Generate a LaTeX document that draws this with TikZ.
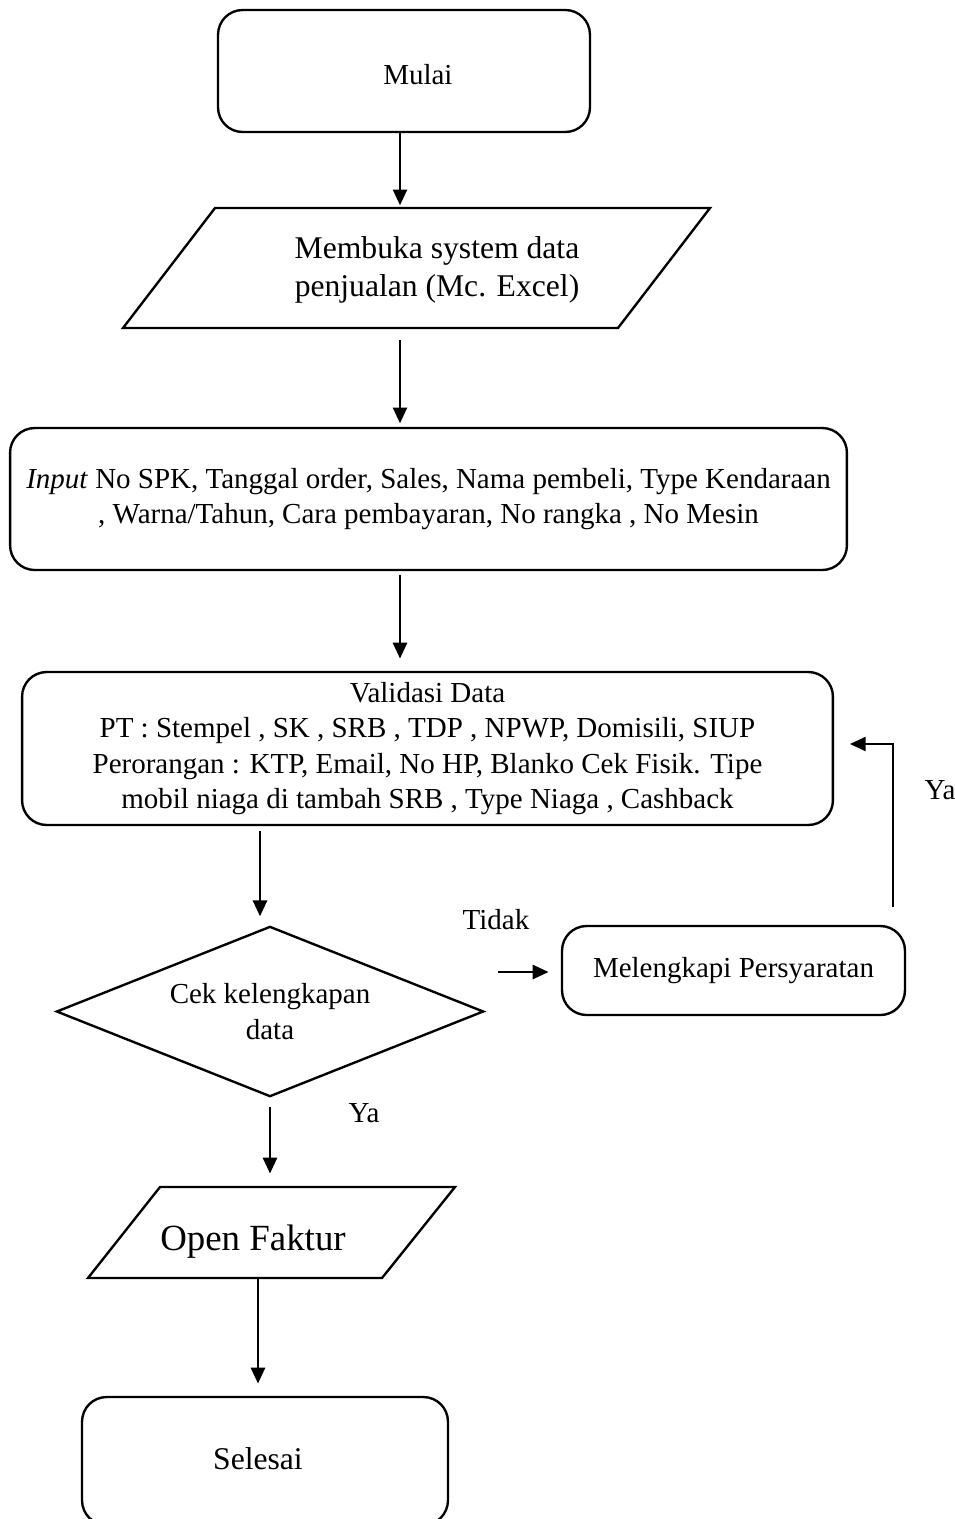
\documentclass[tikz,border=0pt]{standalone}
\usepackage{fontspec}
\setmainfont{Liberation Serif}
\usetikzlibrary{arrows.meta,calc}
\begin{document}
\begin{tikzpicture}[x=0.02cm,y=-0.02cm,
  line width=1.35pt,
  txt/.style={font=\fontsize{16.5}{20}\selectfont, align=center, inner sep=0pt},
  rbox/.style={txt, draw, rounded corners=14pt},
  arr/.style={-{Triangle[length=9pt,width=8pt]}},
]
\useasboundingbox (0,0) rectangle (955,1519);
\clip (0,0) rectangle (955,1519);

% nodes
\node[rbox, minimum width=7.44cm, minimum height=2.44cm, text height=15.8pt, text depth=0pt] (mulai) at (404,71) {\hspace*{15.8pt}Mulai};
\node[txt, font=\fontsize{18}{21.5}\selectfont, minimum height=2.4cm] (buka) at (437,270) {Membuka system data\\penjualan (Mc. Excel)};
\draw (215,208) -- (710,208) -- (618,328) -- (123,328) -- cycle;
\node[rbox, minimum width=16.74cm, minimum height=2.84cm] (input) at (428.5,499) {\textit{Input} No SPK, Tanggal order, Sales, Nama pembeli, Type Kendaraan\\, Warna/Tahun, Cara pembayaran, No rangka , No Mesin};
\node[rbox, minimum width=16.22cm, minimum height=3.06cm] (valid) at (427.5,748.5) {Validasi Data\\PT : Stempel , SK , SRB , TDP , NPWP, Domisili, SIUP\\Perorangan : KTP, Email, No HP, Blanko Cek Fisik. Tipe\\mobil niaga di tambah SRB , Type Niaga , Cashback};
\node[txt, minimum width=8.48cm, minimum height=3.34cm] (cek) at (270,1011.5) {Cek kelengkapan\\data};
\draw (cek.west) -- (cek.north) -- (cek.east) -- (cek.south) -- cycle;
\node[rbox, minimum width=6.86cm, minimum height=1.78cm] (leng) at (733.5,970.5) {Melengkapi Persyaratan};
\node[txt, font=\fontsize{21}{25}\selectfont, minimum height=1.82cm, text height=25pt, text depth=4.5pt] (faktur) at (253,1232.5) {Open Faktur};
\draw (160,1187) -- (455,1187) -- (382,1278) -- (88,1278) -- cycle;
\node[rbox, font=\fontsize{18}{21.5}\selectfont, minimum width=7.32cm, minimum height=2.56cm] (selesai) at (265,1461) {\raisebox{2.3pt}{Selesai}\hspace*{8pt}};

% labels
\node[txt] (tidak) at (496,920) {Tidak};
\node[txt] (ya1) at (940,790) {Ya};
\node[txt] (ya2) at (364,1113) {Ya};

% connector columns
\coordinate (c1) at (400,0);
\coordinate (c2) at (260,0);
\coordinate (c3) at (270,0);
\coordinate (c4) at (258,0);
\coordinate (c5) at (893,0);
\coordinate (t1) at (498,972);

\draw[arr, shorten >=2pt] (mulai.south -| c1) -- (buka.north -| c1);
\draw[arr, shorten <=5pt, shorten >=2pt] (buka.south -| c1) -- (input.north -| c1);
\draw[arr, shorten <=2pt, shorten >=7pt] (input.south -| c1) -- (valid.north -| c1);
\draw[arr, shorten <=3pt, shorten >=6pt] (valid.south -| c2) -- (cek.north -| c2);
\draw[arr, shorten <=6pt, shorten >=7pt] (cek.south -| c3) -- (faktur.north -| c3);
\draw[arr, shorten >=7pt] (faktur.south -| c4) -- (selesai.north -| c4);
\draw[arr, shorten >=7pt] (t1) -- (t1 -| leng.west);
\draw[arr, shorten <=10pt, shorten >=9pt] (leng.north -| c5) -- (c5 |- 0,744) -- (valid.east |- 0,744);
\end{tikzpicture}
\end{document}
